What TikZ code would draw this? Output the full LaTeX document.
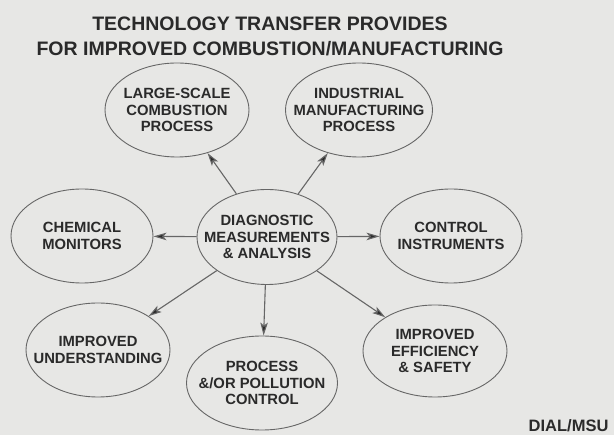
\documentclass[tikz,border=0pt]{standalone}
\usepackage{fontspec}
\setmainfont{Liberation Sans}
\usetikzlibrary{shapes.geometric,arrows.meta}
\definecolor{bg}{HTML}{E7E7E5}
\definecolor{ink}{HTML}{2A2A2A}
\definecolor{edge}{HTML}{666666}
\tikzset{
  bubble/.style={ellipse, draw=edge, line width=0.9pt, inner sep=0pt,
    minimum width=144pt, minimum height=94pt},
  btext/.style={align=center, text=ink, inner sep=0pt,
    font=\bfseries\fontsize{14.8}{16.7}\selectfont},
  link/.style={draw=edge, line width=1.1pt,
    -{Stealth[length=13pt,width=7.5pt,inset=3pt,fill=ink]}},
}
\begin{document}
\begin{tikzpicture}[x=1pt,y=-1pt]
\fill[bg] (0,0) rectangle (614,435);
\useasboundingbox (0,0) rectangle (614,435);
\node[align=center, text=ink, font=\bfseries\fontsize{19.5}{25}\selectfont] (title) at (270,36)
  {TECHNOLOGY TRANSFER PROVIDES\\FOR IMPROVED COMBUSTION/MANUFACTURING};
\node[bubble, minimum width=140pt, minimum height=95pt] (diag) at (267,237) {};
\node[btext] (diagt) at (diag) {DIAGNOSTIC\\MEASUREMENTS\\\& ANALYSIS};
\node[bubble] (large) at (177,110) {};
\node[btext] (larget) at (large) {LARGE-SCALE\\COMBUSTION\\PROCESS};
\node[bubble, minimum width=147pt] (indus) at (359,110) {};
\node[btext] (indust) at (indus) {INDUSTRIAL\\MANUFACTURING\\PROCESS};
\node[bubble, minimum width=142pt] (chem) at (82,236) {};
\node[btext] (chemt) at (chem) {CHEMICAL\\MONITORS};
\node[bubble, minimum width=142pt] (ctrl) at (451,236) {};
\node[btext] (ctrlt) at (ctrl) {CONTROL\\INSTRUMENTS};
\node[bubble] (under) at (98,350) {};
\node[btext] (undert) at (under) {IMPROVED\\UNDERSTANDING};
\node[bubble, minimum width=151pt] (proc) at (262,383) {};
\node[btext] (proct) at (proc) {PROCESS\\\&/OR POLLUTION\\CONTROL};
\node[bubble, minimum height=92pt] (eff) at (435,351) {};
\node[btext] (efft) at (eff) {IMPROVED\\EFFICIENCY\\\& SAFETY};
\node[anchor=base east, text=ink, font=\bfseries\fontsize{16.5}{18}\selectfont] (dial) at (612,432) {DIAL/MSU};
\draw[link] (diag) -- (large);
\draw[link] (diag) -- (indus);
\draw[link] (diag) -- (chem);
\draw[link] (diag) -- (ctrl);
\draw[link] (diag) -- (under);
\draw[link] (diag) -- (proc);
\draw[link] (diag) -- (eff);
\end{tikzpicture}
\end{document}
